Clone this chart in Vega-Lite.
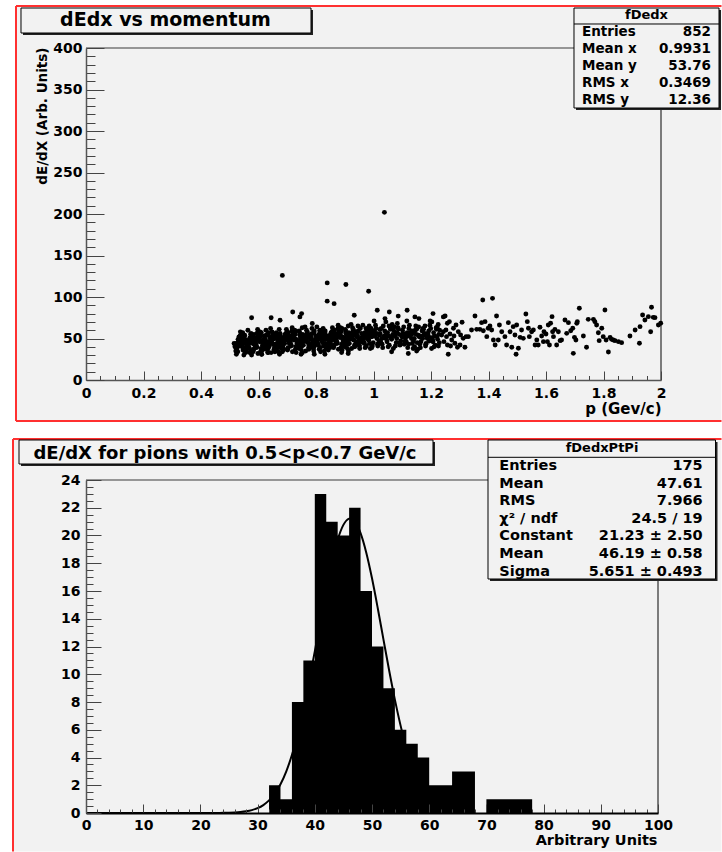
{
"$schema": "https://vega.github.io/schema/vega-lite/v6.json",
"padding": 0,
"autosize": {"type": "pad"},
"background": "#ffffff",
"spacing": 100,
"bounds": "flush",
"config": {
  "font": "DejaVu Sans",
  "view": {"stroke": null},
  "axis": {"grid": false, "zindex": 1, "labelFont": "DejaVu Sans", "labelFontWeight": "bold", "labelFontSize": 14, "labelColor": "#000000", "titleFont": "DejaVu Sans", "titleFontWeight": "bold", "titleColor": "#000000", "labelFlush": false, "labelOverlap": false, "domainColor": "#555555", "domainWidth": 1.5, "tickColor": "#444444", "tickWidth": 1},
  "text": {"font": "DejaVu Sans", "fontWeight": "bold", "color": "#000000"}
},
"datasets": {
"pts": [
{"p":0.515,"e":44},{"p":0.518,"e":40},{"p":0.521,"e":35},{"p":0.538,"e":47},{"p":0.527,"e":42},{"p":0.532,"e":52},{"p":0.523,"e":31},{"p":0.535,"e":45},{"p":0.529,"e":49},{"p":0.525,"e":38},{"p":0.539,"e":55},{"p":0.531,"e":41},{"p":0.522,"e":44},{"p":0.534,"e":51},{"p":0.528,"e":34},{"p":0.537,"e":58},{"p":0.524,"e":39},{"p":0.530,"e":46},{"p":0.536,"e":53},{"p":0.526,"e":43},
{"p":0.550,"e":50},{"p":0.543,"e":40},{"p":0.556,"e":33},{"p":0.547,"e":46},{"p":0.552,"e":54},{"p":0.541,"e":43},{"p":0.559,"e":37},{"p":0.545,"e":57},{"p":0.554,"e":44},{"p":0.549,"e":30},{"p":0.557,"e":48},{"p":0.542,"e":41},{"p":0.551,"e":52},{"p":0.546,"e":36},{"p":0.558,"e":45},{"p":0.544,"e":56},{"p":0.553,"e":39},{"p":0.548,"e":47},{"p":0.555,"e":35},{"p":0.540,"e":49},
{"p":0.561,"e":43},{"p":0.578,"e":54},{"p":0.567,"e":39},{"p":0.572,"e":45},{"p":0.563,"e":60},{"p":0.575,"e":35},{"p":0.569,"e":49},{"p":0.565,"e":41},{"p":0.579,"e":52},{"p":0.571,"e":33},{"p":0.562,"e":46},{"p":0.574,"e":56},{"p":0.568,"e":38},{"p":0.577,"e":48},{"p":0.564,"e":44},{"p":0.570,"e":51},{"p":0.576,"e":30},{"p":0.566,"e":47},{"p":0.573,"e":55},{"p":0.560,"e":42},
{"p":0.590,"e":46},{"p":0.583,"e":37},{"p":0.596,"e":57},{"p":0.587,"e":42},{"p":0.592,"e":50},{"p":0.581,"e":34},{"p":0.599,"e":53},{"p":0.585,"e":45},{"p":0.594,"e":40},{"p":0.589,"e":48},{"p":0.597,"e":61},{"p":0.582,"e":36},{"p":0.591,"e":43},{"p":0.586,"e":51},{"p":0.598,"e":32},{"p":0.584,"e":55},{"p":0.593,"e":39},{"p":0.588,"e":47},{"p":0.595,"e":49},{"p":0.580,"e":44},
{"p":0.601,"e":51},{"p":0.618,"e":41},{"p":0.607,"e":34},{"p":0.612,"e":47},{"p":0.603,"e":55},{"p":0.615,"e":44},{"p":0.609,"e":38},{"p":0.605,"e":58},{"p":0.619,"e":45},{"p":0.611,"e":31},{"p":0.602,"e":49},{"p":0.614,"e":42},{"p":0.608,"e":53},{"p":0.617,"e":37},{"p":0.604,"e":46},{"p":0.610,"e":57},{"p":0.616,"e":40},{"p":0.606,"e":48},{"p":0.613,"e":36},{"p":0.600,"e":50},
{"p":0.630,"e":37},{"p":0.623,"e":49},{"p":0.636,"e":44},{"p":0.627,"e":54},{"p":0.632,"e":33},{"p":0.621,"e":47},{"p":0.639,"e":51},{"p":0.625,"e":40},{"p":0.634,"e":57},{"p":0.629,"e":43},{"p":0.637,"e":46},{"p":0.622,"e":53},{"p":0.631,"e":36},{"p":0.626,"e":60},{"p":0.638,"e":41},{"p":0.624,"e":48},{"p":0.633,"e":55},{"p":0.628,"e":45},{"p":0.635,"e":39},{"p":0.620,"e":50},
{"p":0.641,"e":47},{"p":0.658,"e":38},{"p":0.647,"e":58},{"p":0.652,"e":43},{"p":0.643,"e":51},{"p":0.655,"e":35},{"p":0.649,"e":54},{"p":0.645,"e":46},{"p":0.659,"e":41},{"p":0.651,"e":49},{"p":0.642,"e":62},{"p":0.654,"e":37},{"p":0.648,"e":44},{"p":0.657,"e":52},{"p":0.644,"e":33},{"p":0.650,"e":56},{"p":0.656,"e":40},{"p":0.646,"e":48},{"p":0.653,"e":50},{"p":0.640,"e":45},
{"p":0.670,"e":44},{"p":0.663,"e":55},{"p":0.676,"e":40},{"p":0.667,"e":46},{"p":0.672,"e":61},{"p":0.661,"e":36},{"p":0.679,"e":50},{"p":0.665,"e":42},{"p":0.674,"e":53},{"p":0.669,"e":34},{"p":0.677,"e":47},{"p":0.662,"e":57},{"p":0.671,"e":39},{"p":0.666,"e":49},{"p":0.678,"e":45},{"p":0.664,"e":52},{"p":0.673,"e":31},{"p":0.668,"e":48},{"p":0.675,"e":56},{"p":0.660,"e":43},
{"p":0.681,"e":38},{"p":0.698,"e":50},{"p":0.687,"e":45},{"p":0.692,"e":55},{"p":0.683,"e":34},{"p":0.695,"e":48},{"p":0.689,"e":52},{"p":0.685,"e":41},{"p":0.699,"e":58},{"p":0.691,"e":44},{"p":0.682,"e":47},{"p":0.694,"e":54},{"p":0.688,"e":37},{"p":0.697,"e":61},{"p":0.684,"e":42},{"p":0.690,"e":49},{"p":0.696,"e":56},{"p":0.686,"e":46},
{"p":0.710,"e":48},{"p":0.703,"e":39},{"p":0.716,"e":59},{"p":0.707,"e":44},{"p":0.712,"e":52},{"p":0.701,"e":36},{"p":0.719,"e":55},{"p":0.705,"e":47},{"p":0.714,"e":42},{"p":0.709,"e":50},{"p":0.717,"e":63},{"p":0.702,"e":38},{"p":0.711,"e":45},{"p":0.706,"e":53},{"p":0.718,"e":34},{"p":0.704,"e":57},{"p":0.713,"e":41},{"p":0.708,"e":49},
{"p":0.721,"e":53},{"p":0.738,"e":43},{"p":0.727,"e":36},{"p":0.732,"e":49},{"p":0.723,"e":57},{"p":0.735,"e":46},{"p":0.729,"e":40},{"p":0.725,"e":60},{"p":0.739,"e":47},{"p":0.731,"e":33},{"p":0.722,"e":51},{"p":0.734,"e":44},{"p":0.728,"e":55},{"p":0.737,"e":39},{"p":0.724,"e":48},{"p":0.730,"e":59},{"p":0.736,"e":42},{"p":0.726,"e":50},
{"p":0.750,"e":46},{"p":0.743,"e":57},{"p":0.756,"e":42},{"p":0.747,"e":48},{"p":0.752,"e":63},{"p":0.741,"e":38},{"p":0.759,"e":52},{"p":0.745,"e":44},{"p":0.754,"e":55},{"p":0.749,"e":36},{"p":0.757,"e":49},{"p":0.742,"e":59},{"p":0.751,"e":41},{"p":0.746,"e":51},{"p":0.758,"e":47},{"p":0.744,"e":54},{"p":0.753,"e":33},{"p":0.748,"e":50},
{"p":0.761,"e":49},{"p":0.778,"e":40},{"p":0.767,"e":60},{"p":0.772,"e":45},{"p":0.763,"e":53},{"p":0.775,"e":37},{"p":0.769,"e":56},{"p":0.765,"e":48},{"p":0.779,"e":43},{"p":0.771,"e":51},{"p":0.762,"e":64},{"p":0.774,"e":39},{"p":0.768,"e":46},{"p":0.777,"e":54},{"p":0.764,"e":35},{"p":0.770,"e":58},{"p":0.776,"e":42},{"p":0.766,"e":50},
{"p":0.790,"e":39},{"p":0.783,"e":51},{"p":0.796,"e":46},{"p":0.787,"e":56},{"p":0.792,"e":35},{"p":0.781,"e":49},{"p":0.799,"e":53},{"p":0.785,"e":42},{"p":0.794,"e":59},{"p":0.789,"e":45},{"p":0.797,"e":48},{"p":0.782,"e":55},{"p":0.791,"e":38},{"p":0.786,"e":62},{"p":0.798,"e":43},{"p":0.784,"e":50},{"p":0.793,"e":57},{"p":0.788,"e":47},{"p":0.795,"e":41},{"p":0.780,"e":52},
{"p":0.801,"e":47},{"p":0.818,"e":58},{"p":0.807,"e":43},{"p":0.812,"e":49},{"p":0.803,"e":64},{"p":0.815,"e":39},{"p":0.809,"e":53},{"p":0.805,"e":45},{"p":0.819,"e":56},{"p":0.811,"e":37},{"p":0.802,"e":50},{"p":0.814,"e":60},{"p":0.808,"e":42},{"p":0.817,"e":52},{"p":0.804,"e":48},{"p":0.810,"e":55},{"p":0.816,"e":34},{"p":0.806,"e":51},{"p":0.813,"e":59},{"p":0.800,"e":46},
{"p":0.830,"e":55},{"p":0.823,"e":45},{"p":0.836,"e":38},{"p":0.827,"e":51},{"p":0.832,"e":59},{"p":0.821,"e":48},{"p":0.839,"e":42},{"p":0.825,"e":62},{"p":0.834,"e":49},{"p":0.829,"e":35},{"p":0.837,"e":53},{"p":0.822,"e":46},{"p":0.831,"e":57},{"p":0.826,"e":41},{"p":0.838,"e":50},{"p":0.824,"e":61},{"p":0.833,"e":44},{"p":0.828,"e":52},{"p":0.835,"e":40},{"p":0.820,"e":54},
{"p":0.841,"e":40},{"p":0.858,"e":52},{"p":0.847,"e":47},{"p":0.852,"e":57},{"p":0.843,"e":36},{"p":0.855,"e":50},{"p":0.849,"e":54},{"p":0.845,"e":43},{"p":0.859,"e":60},{"p":0.851,"e":46},{"p":0.842,"e":49},{"p":0.854,"e":56},{"p":0.848,"e":39},{"p":0.857,"e":63},{"p":0.844,"e":44},{"p":0.850,"e":51},{"p":0.856,"e":58},{"p":0.846,"e":48},{"p":0.853,"e":42},{"p":0.840,"e":53},
{"p":0.870,"e":51},{"p":0.863,"e":42},{"p":0.876,"e":62},{"p":0.867,"e":47},{"p":0.872,"e":55},{"p":0.861,"e":39},{"p":0.879,"e":58},{"p":0.865,"e":50},{"p":0.874,"e":45},{"p":0.869,"e":53},{"p":0.877,"e":66},{"p":0.862,"e":41},{"p":0.871,"e":48},{"p":0.866,"e":56},{"p":0.878,"e":37},{"p":0.864,"e":60},{"p":0.873,"e":44},{"p":0.868,"e":52},{"p":0.875,"e":54},{"p":0.860,"e":49},
{"p":0.881,"e":56},{"p":0.898,"e":46},{"p":0.887,"e":39},{"p":0.892,"e":52},{"p":0.883,"e":60},{"p":0.895,"e":49},{"p":0.889,"e":43},{"p":0.885,"e":63},{"p":0.899,"e":50},{"p":0.891,"e":36},{"p":0.882,"e":54},{"p":0.894,"e":47},{"p":0.888,"e":58},{"p":0.897,"e":42},{"p":0.884,"e":51},{"p":0.890,"e":62},{"p":0.896,"e":45},{"p":0.886,"e":53},
{"p":0.910,"e":48},{"p":0.903,"e":59},{"p":0.916,"e":44},{"p":0.907,"e":50},{"p":0.912,"e":65},{"p":0.901,"e":40},{"p":0.919,"e":54},{"p":0.905,"e":46},{"p":0.914,"e":57},{"p":0.909,"e":38},{"p":0.917,"e":51},{"p":0.902,"e":61},{"p":0.911,"e":43},{"p":0.906,"e":53},{"p":0.918,"e":49},{"p":0.904,"e":56},{"p":0.913,"e":35},{"p":0.908,"e":52},
{"p":0.921,"e":52},{"p":0.938,"e":43},{"p":0.927,"e":63},{"p":0.932,"e":48},{"p":0.923,"e":56},{"p":0.935,"e":40},{"p":0.929,"e":59},{"p":0.925,"e":51},{"p":0.939,"e":46},{"p":0.931,"e":54},{"p":0.922,"e":67},{"p":0.934,"e":42},{"p":0.928,"e":49},{"p":0.937,"e":57},{"p":0.924,"e":38},{"p":0.930,"e":61},
{"p":0.950,"e":42},{"p":0.943,"e":54},{"p":0.956,"e":49},{"p":0.947,"e":59},{"p":0.952,"e":38},{"p":0.941,"e":52},{"p":0.959,"e":56},{"p":0.945,"e":45},{"p":0.954,"e":62},{"p":0.949,"e":48},{"p":0.957,"e":51},{"p":0.942,"e":58},{"p":0.951,"e":41},{"p":0.946,"e":65},{"p":0.958,"e":46},{"p":0.944,"e":53},
{"p":0.961,"e":49},{"p":0.978,"e":60},{"p":0.967,"e":45},{"p":0.972,"e":51},{"p":0.963,"e":66},{"p":0.975,"e":41},{"p":0.969,"e":55},{"p":0.965,"e":47},{"p":0.979,"e":58},{"p":0.971,"e":39},{"p":0.962,"e":52},{"p":0.974,"e":62},{"p":0.968,"e":44},{"p":0.977,"e":54},{"p":0.964,"e":50},{"p":0.970,"e":57},
{"p":0.990,"e":58},{"p":0.983,"e":48},{"p":0.996,"e":41},{"p":0.987,"e":54},{"p":0.992,"e":62},{"p":0.981,"e":51},{"p":0.999,"e":45},{"p":0.985,"e":65},{"p":0.994,"e":52},{"p":0.989,"e":38},{"p":0.997,"e":56},{"p":0.982,"e":49},{"p":0.991,"e":60},{"p":0.986,"e":44},{"p":0.998,"e":53},{"p":0.984,"e":64},
{"p":1.001,"e":54},{"p":1.018,"e":44},{"p":1.007,"e":66},{"p":1.012,"e":50},{"p":1.003,"e":59},{"p":1.015,"e":41},{"p":1.009,"e":62},{"p":1.005,"e":53},{"p":1.019,"e":47},{"p":1.011,"e":56},{"p":1.002,"e":71},{"p":1.014,"e":43},
{"p":1.030,"e":43},{"p":1.023,"e":56},{"p":1.036,"e":51},{"p":1.027,"e":62},{"p":1.032,"e":39},{"p":1.021,"e":54},{"p":1.039,"e":59},{"p":1.025,"e":46},{"p":1.034,"e":65},{"p":1.029,"e":50},{"p":1.037,"e":53},{"p":1.022,"e":61},
{"p":1.041,"e":51},{"p":1.058,"e":63},{"p":1.047,"e":46},{"p":1.052,"e":53},{"p":1.043,"e":70},{"p":1.055,"e":42},{"p":1.049,"e":57},{"p":1.045,"e":49},{"p":1.059,"e":61},{"p":1.051,"e":40},{"p":1.042,"e":54},{"p":1.054,"e":65},
{"p":1.070,"e":60},{"p":1.063,"e":49},{"p":1.076,"e":41},{"p":1.067,"e":55},{"p":1.072,"e":64},{"p":1.061,"e":52},{"p":1.079,"e":45},{"p":1.065,"e":67},{"p":1.074,"e":53},{"p":1.069,"e":38},{"p":1.077,"e":57},{"p":1.062,"e":50},
{"p":1.081,"e":50},{"p":1.098,"e":53},{"p":1.087,"e":61},{"p":1.092,"e":42},{"p":1.083,"e":68},{"p":1.095,"e":47},{"p":1.089,"e":55},{"p":1.085,"e":63},{"p":1.099,"e":52},{"p":1.091,"e":45},{"p":1.082,"e":57},{"p":1.094,"e":43},
{"p":1.110,"e":47},{"p":1.103,"e":56},{"p":1.116,"e":71},{"p":1.107,"e":43},{"p":1.112,"e":51},{"p":1.101,"e":60},{"p":1.119,"e":39},{"p":1.105,"e":64},{"p":1.114,"e":46},{"p":1.109,"e":55},{"p":1.117,"e":57},{"p":1.102,"e":52},
{"p":1.121,"e":53},{"p":1.138,"e":38},{"p":1.127,"e":57},{"p":1.132,"e":50},{"p":1.123,"e":62},{"p":1.135,"e":44},{"p":1.129,"e":54},{"p":1.125,"e":66},{"p":1.139,"e":47},{"p":1.131,"e":56},{"p":1.122,"e":43},{"p":1.134,"e":59},
{"p":1.150,"e":61},{"p":1.143,"e":40},{"p":1.156,"e":54},{"p":1.147,"e":65},{"p":1.152,"e":45},{"p":1.141,"e":56},{"p":1.159,"e":52},{"p":1.145,"e":60},{"p":1.154,"e":37},{"p":1.149,"e":55},{"p":1.157,"e":64},{"p":1.142,"e":50},
{"p":1.161,"e":43},{"p":1.178,"e":56},{"p":1.167,"e":51},{"p":1.172,"e":62},{"p":1.163,"e":39},{"p":1.175,"e":54},{"p":1.169,"e":59},{"p":1.165,"e":46},{"p":1.179,"e":65},{"p":1.171,"e":50},{"p":1.162,"e":53},{"p":1.174,"e":61},
{"p":1.190,"e":54},{"p":1.183,"e":44},{"p":1.196,"e":66},{"p":1.187,"e":50},{"p":1.192,"e":59},{"p":1.181,"e":41},{"p":1.199,"e":62},{"p":1.185,"e":53},{"p":1.194,"e":47},{"p":1.189,"e":56},{"p":1.197,"e":71},{"p":1.182,"e":43},
{"p":1.201,"e":51},{"p":1.218,"e":63},{"p":1.207,"e":46},{"p":1.212,"e":53},{"p":1.203,"e":70},{"p":1.215,"e":42},{"p":1.209,"e":57},{"p":1.205,"e":49},{"p":1.219,"e":61},{"p":1.211,"e":40},
{"p":1.230,"e":60},{"p":1.223,"e":49},{"p":1.226,"e":41},{"p":1.227,"e":55},{"p":1.222,"e":64},{"p":1.221,"e":52},{"p":1.229,"e":45},{"p":1.225,"e":67},
{"p":0.551,"e":35},{"p":0.570,"e":33},{"p":0.611,"e":31},{"p":0.634,"e":33},{"p":0.657,"e":34},{"p":0.686,"e":36},{"p":0.748,"e":31},{"p":0.794,"e":31},{"p":0.831,"e":31},{"p":0.889,"e":33},{"p":0.912,"e":32},{"p":0.994,"e":39},{"p":1.063,"e":34},{"p":1.121,"e":32},{"p":1.150,"e":35},{"p":1.202,"e":38},
{"p":0.576,"e":75},{"p":0.644,"e":75},{"p":0.675,"e":72},{"p":0.719,"e":82},{"p":0.750,"e":80},{"p":0.744,"e":76},{"p":0.787,"e":68},{"p":0.933,"e":78},{"p":1.013,"e":84},{"p":1.040,"e":74},{"p":1.055,"e":82},{"p":1.086,"e":77},{"p":1.117,"e":84},{"p":1.144,"e":76},{"p":1.158,"e":74},{"p":1.207,"e":80},{"p":1.243,"e":76},
{"p":0.683,"e":126},{"p":0.839,"e":117},{"p":0.904,"e":115},{"p":0.983,"e":107},{"p":0.839,"e":95},{"p":0.863,"e":92},{"p":1.038,"e":202},
{"p":1.249,"e":77.1},{"p":1.257,"e":68.3},{"p":1.264,"e":70.3},{"p":1.252,"e":60.2},{"p":1.243,"e":58.2},{"p":1.237,"e":54.2},{"p":1.254,"e":52.2},{"p":1.266,"e":55.4},{"p":1.245,"e":46.2},{"p":1.257,"e":42.2},{"p":1.272,"e":48.2},{"p":1.278,"e":62.3},{"p":1.287,"e":66.3},{"p":1.295,"e":58.2},{"p":1.303,"e":54.2},{"p":1.308,"e":69.5},{"p":1.312,"e":50.2},{"p":1.318,"e":39.4},{"p":1.322,"e":52.2},{"p":1.283,"e":44.2},{"p":1.292,"e":39.4},{"p":1.301,"e":42.2},{"p":1.260,"e":31.0},{"p":1.268,"e":41.0},{"p":1.280,"e":53.0},
{"p":1.330,"e":52.2},{"p":1.341,"e":60.2},{"p":1.353,"e":77.1},{"p":1.359,"e":61.0},{"p":1.370,"e":61.0},{"p":1.376,"e":69.1},{"p":1.380,"e":96.4},{"p":1.382,"e":59.4},{"p":1.388,"e":70.3},{"p":1.394,"e":52.2},{"p":1.399,"e":62.3},{"p":1.405,"e":65.1},{"p":1.411,"e":60.2},{"p":1.414,"e":98.4},{"p":1.417,"e":48.2},{"p":1.423,"e":42.2},{"p":1.428,"e":77.1},{"p":1.434,"e":48.2},{"p":1.438,"e":66.3},{"p":1.446,"e":58.2},{"p":1.457,"e":52.2},{"p":1.463,"e":42.2},{"p":1.469,"e":69.1},{"p":1.475,"e":58.2},{"p":1.481,"e":39.4},{"p":1.486,"e":64.3},{"p":1.492,"e":54.2},{"p":1.496,"e":31.0},{"p":1.498,"e":66.3},
{"p":1.504,"e":38.2},{"p":1.510,"e":51.4},{"p":1.515,"e":60.2},{"p":1.521,"e":50.2},{"p":1.530,"e":79.5},{"p":1.535,"e":70.3},{"p":1.539,"e":62.3},{"p":1.542,"e":52.2},{"p":1.550,"e":58.2},{"p":1.556,"e":60.2},{"p":1.562,"e":42.2},{"p":1.568,"e":48.2},{"p":1.573,"e":42.2},{"p":1.579,"e":63.5},{"p":1.585,"e":53.0},{"p":1.591,"e":46.2},{"p":1.593,"e":58.2},{"p":1.600,"e":55.4},{"p":1.605,"e":46.2},{"p":1.608,"e":66.3},{"p":1.612,"e":42.2},{"p":1.616,"e":68.3},{"p":1.621,"e":76.3},{"p":1.623,"e":58.2},{"p":1.626,"e":52.2},{"p":1.631,"e":61.0},{"p":1.637,"e":42.2},{"p":1.643,"e":58.2},{"p":1.649,"e":47.4},{"p":1.654,"e":48.2},
{"p":1.666,"e":72.3},{"p":1.672,"e":56.2},{"p":1.678,"e":69.1},{"p":1.686,"e":59.4},{"p":1.693,"e":62.3},{"p":1.695,"e":32.1},{"p":1.699,"e":51.4},{"p":1.704,"e":48.2},{"p":1.707,"e":68.3},{"p":1.709,"e":70.3},{"p":1.716,"e":86.4},{"p":1.730,"e":53.0},{"p":1.741,"e":39.4},{"p":1.747,"e":73.1},{"p":1.765,"e":73.1},{"p":1.770,"e":70.3},{"p":1.776,"e":66.3},{"p":1.782,"e":57.0},{"p":1.785,"e":47.4},{"p":1.794,"e":62.3},{"p":1.799,"e":52.2},{"p":1.805,"e":84.3},{"p":1.809,"e":48.2},{"p":1.817,"e":33.7},{"p":1.823,"e":51.4},{"p":1.828,"e":49.0},{"p":1.834,"e":48.2},{"p":1.840,"e":47.4},{"p":1.852,"e":46.2},{"p":1.863,"e":45.0},
{"p":1.892,"e":53.0},{"p":1.910,"e":60.2},{"p":1.925,"e":44.2},{"p":1.927,"e":64.3},{"p":1.936,"e":78.3},{"p":1.944,"e":72.3},{"p":1.956,"e":76.3},{"p":1.964,"e":58.2},{"p":1.967,"e":87.6},{"p":1.973,"e":75.5},{"p":1.979,"e":75.1},{"p":1.991,"e":66.3},{"p":1.999,"e":68.3}
],
"hist": [
{"lo":32,"n":2},{"lo":34,"n":1},{"lo":36,"n":8},{"lo":38,"n":11},{"lo":40,"n":23},{"lo":42,"n":21},{"lo":44,"n":20},{"lo":46,"n":22},{"lo":48,"n":16},{"lo":50,"n":12},{"lo":52,"n":9},{"lo":54,"n":6},{"lo":56,"n":5},{"lo":58,"n":4},{"lo":60,"n":2},{"lo":62,"n":2},{"lo":64,"n":3},{"lo":66,"n":3},{"lo":68,"n":0},{"lo":70,"n":1},{"lo":72,"n":1},{"lo":74,"n":1},{"lo":76,"n":1},{"lo":78,"n":0}
],
"fit": [
{"x":0,"f":0},{"x":10,"f":0},{"x":20,"f":0.0005},{"x":22,"f":0.0022},{"x":24,"f":0.0095},{"x":25,"f":0.0188},{"x":26,"f":0.0359},{"x":27,"f":0.0665},{"x":28,"f":0.1195},{"x":29,"f":0.2077},{"x":30,"f":0.350},{"x":31,"f":0.573},{"x":32,"f":0.907},{"x":33,"f":1.393},{"x":34,"f":2.072},{"x":35,"f":2.989},{"x":36,"f":4.178},{"x":37,"f":5.658},{"x":38,"f":7.428},{"x":39,"f":9.450},{"x":40,"f":11.653},{"x":41,"f":13.925},{"x":42,"f":16.128},{"x":43,"f":18.103},{"x":44,"f":19.695},{"x":45,"f":20.765},{"x":46,"f":21.218},{"x":46.19,"f":21.23},{"x":47,"f":21.013},{"x":48,"f":20.168},{"x":49,"f":18.761},{"x":50,"f":16.914},{"x":51,"f":14.778},{"x":52,"f":12.513},{"x":53,"f":10.271},{"x":54,"f":8.169},{"x":55,"f":6.297},{"x":55.2,"f":5.955}
]
},
"vconcat": [
{
"width": 575, "height": 332,
"layer": [
{"data": {"values": [{}]}, "mark": {"type": "rect", "fill": "#ffffff"},
 "encoding": {"x": {"datum": -0.29878, "type": "quantitative", "scale": {"domain": [0, 2], "nice": false, "zero": false}}, "x2": {"datum": 2.21043}, "y": {"datum": 457.71, "type": "quantitative", "scale": {"domain": [0, 400], "nice": false, "zero": false}}, "y2": {"datum": -49.4}}},
{"data": {"values": [{}]}, "mark": {"type": "rect", "fill": "#f2f2f2"},
 "encoding": {"x": {"datum": -0.24348, "type": "quantitative"}, "x2": {"datum": 2.21043}, "y": {"datum": 450.6, "type": "quantitative"}, "y2": {"datum": -49.4}}},
{"data": {"values": [{}]}, "mark": {"type": "rule", "color": "#ff3030", "strokeWidth": 2},
 "encoding": {"x": {"datum": -0.24348, "type": "quantitative"}, "x2": {"datum": 2.21043}, "y": {"datum": 450.6, "type": "quantitative"}}},
{"data": {"values": [{}]}, "mark": {"type": "rule", "color": "#ff3030", "strokeWidth": 2},
 "encoding": {"x": {"datum": -0.24348, "type": "quantitative"}, "x2": {"datum": 2.21043}, "y": {"datum": -49.4, "type": "quantitative"}}},
{"data": {"values": [{}]}, "mark": {"type": "rule", "color": "#ff3030", "strokeWidth": 2},
 "encoding": {"x": {"datum": -0.24348, "type": "quantitative"}, "y": {"datum": 450.6, "type": "quantitative"}, "y2": {"datum": -49.4}}},
{"data": {"values": [{}]}, "mark": {"type": "rule", "color": "#777777", "strokeWidth": 1.5},
 "encoding": {"x": {"datum": 0, "type": "quantitative"}, "x2": {"datum": 2}, "y": {"datum": 400, "type": "quantitative"}}},
{"data": {"values": [{}]}, "mark": {"type": "rule", "color": "#555555", "strokeWidth": 1.5},
 "encoding": {"x": {"datum": 2, "type": "quantitative"}, "y": {"datum": 0, "type": "quantitative"}, "y2": {"datum": 400}}},
{"data": {"name": "pts"},
 "mark": {"type": "point", "filled": true, "shape": "circle", "size": 24, "color": "#000000", "opacity": 1},
 "encoding": {
  "x": {"field": "p", "type": "quantitative", "scale": {"domain": [0, 2], "nice": false, "zero": false},
   "axis": {"zindex": 1, "tickCount": 500, "labelOverlap": false, "values": [0,0.05,0.1,0.15,0.2,0.25,0.3,0.35,0.4,0.45,0.5,0.55,0.6,0.65,0.7,0.75,0.8,0.85,0.9,0.95,1,1.05,1.1,1.15,1.2,1.25,1.3,1.35,1.4,1.45,1.5,1.55,1.6,1.65,1.7,1.75,1.8,1.85,1.9,1.95,2],
    "labelExpr": "abs(datum.value*5-round(datum.value*5))<0.000001 ? format(datum.value,'~g') : ''",
    "tickSize": {"condition": {"test": "abs(datum.value*5-round(datum.value*5))<0.000001", "value": -9}, "value": -4.5},
    "labelPadding": 15,
    "title": "p (Gev/c)", "titleX": 575, "titleY": 33, "titleAlign": "right", "titleBaseline": "alphabetic", "titleFontSize": 15}},
  "y": {"field": "e", "type": "quantitative", "scale": {"domain": [0, 400], "nice": false, "zero": false},
   "axis": {"zindex": 1, "tickCount": 500, "labelOverlap": false, "values": [0,10,20,30,40,50,60,70,80,90,100,110,120,130,140,150,160,170,180,190,200,210,220,230,240,250,260,270,280,290,300,310,320,330,340,350,360,370,380,390,400],
    "labelExpr": "datum.value % 50 === 0 ? format(datum.value,'~g') : ''",
    "tickSize": {"condition": {"test": "datum.value % 50 === 0", "value": -18}, "value": -9},
    "labelPadding": 22,
    "title": "dE/dX (Arb. Units)", "titleX": -40, "titleY": -1, "titleAlign": "right", "titleAngle": 270, "titleBaseline": "alphabetic", "titleFontSize": 13.5}}
 }},
{"data": {"values": [{}]}, "mark": {"type": "rect", "fill": "#222222"},
 "encoding": {"x": {"datum": -0.21913, "type": "quantitative"}, "x2": {"datum": 0.78957}, "y": {"datum": 445.78, "type": "quantitative"}, "y2": {"datum": 415.66}}},
{"data": {"values": [{}]}, "mark": {"type": "rect", "fill": "#f2f2f2", "stroke": "#000000", "strokeWidth": 1},
 "encoding": {"x": {"datum": -0.22609, "type": "quantitative"}, "x2": {"datum": 0.78261}, "y": {"datum": 448.19, "type": "quantitative"}, "y2": {"datum": 418.07}}},
{"data": {"values": [{"t": "dEdx vs momentum"}]}, "mark": {"type": "text", "fontSize": 19, "align": "center", "baseline": "alphabetic"},
 "encoding": {"x": {"datum": 0.27652, "type": "quantitative"}, "y": {"datum": 426.51, "type": "quantitative"}, "text": {"field": "t"}}},
{"data": {"values": [{}]}, "mark": {"type": "rect", "fill": "#222222"},
 "encoding": {"x": {"datum": 1.70435, "type": "quantitative"}, "x2": {"datum": 2.2087}, "y": {"datum": 445.78, "type": "quantitative"}, "y2": {"datum": 325.3}}},
{"data": {"values": [{}]}, "mark": {"type": "rect", "fill": "#f2f2f2", "stroke": "#000000", "strokeWidth": 1},
 "encoding": {"x": {"datum": 1.69739, "type": "quantitative"}, "x2": {"datum": 2.20174}, "y": {"datum": 448.19, "type": "quantitative"}, "y2": {"datum": 327.71}}},
{"data": {"values": [{}]}, "mark": {"type": "rule", "color": "#000000", "strokeWidth": 1},
 "encoding": {"x": {"datum": 1.69739, "type": "quantitative"}, "x2": {"datum": 2.20174}, "y": {"datum": 428.92, "type": "quantitative"}}},
{"data": {"values": [{"t": "fDedx"}]}, "mark": {"type": "text", "fontSize": 13, "align": "center", "baseline": "alphabetic"},
 "encoding": {"x": {"datum": 1.94957, "type": "quantitative"}, "y": {"datum": 434.34, "type": "quantitative"}, "text": {"field": "t"}}},
{"data": {"values": [{"t": "Entries\nMean x\nMean y\nRMS x\nRMS y"}]}, "mark": {"type": "text", "fontSize": 13.5, "align": "left", "baseline": "alphabetic", "lineBreak": "\n", "lineHeight": 16.8},
 "encoding": {"x": {"datum": 1.72522, "type": "quantitative"}, "y": {"datum": 413.86, "type": "quantitative"}, "text": {"field": "t"}}},
{"data": {"values": [{"t": "852\n0.9931\n53.76\n0.3469\n12.36"}]}, "mark": {"type": "text", "fontSize": 13.5, "align": "right", "baseline": "alphabetic", "lineBreak": "\n", "lineHeight": 16.8},
 "encoding": {"x": {"datum": 2.17391, "type": "quantitative"}, "y": {"datum": 413.86, "type": "quantitative"}, "text": {"field": "t"}}}
]
},
{
"width": 572, "height": 333,
"layer": [
{"data": {"values": [{}]}, "mark": {"type": "rect", "fill": "#f2f2f2"},
 "encoding": {"x": {"datum": -12.762, "type": "quantitative", "scale": {"domain": [0, 100], "nice": false, "zero": false}}, "x2": {"datum": 111.101}, "y": {"datum": 26.955, "type": "quantitative", "scale": {"domain": [0, 24], "nice": false, "zero": false}}, "y2": {"datum": -2.7748}}},
{"data": {"values": [{}]}, "mark": {"type": "rule", "color": "#ff3030", "strokeWidth": 2},
 "encoding": {"x": {"datum": -12.762, "type": "quantitative"}, "x2": {"datum": 111.101}, "y": {"datum": 26.955, "type": "quantitative"}}},
{"data": {"values": [{}]}, "mark": {"type": "rule", "color": "#ff3030", "strokeWidth": 2},
 "encoding": {"x": {"datum": -12.762, "type": "quantitative"}, "y": {"datum": 26.955, "type": "quantitative"}, "y2": {"datum": -2.7748}}},
{"data": {"values": [{}]}, "mark": {"type": "rule", "color": "#777777", "strokeWidth": 1.5},
 "encoding": {"x": {"datum": 0, "type": "quantitative"}, "x2": {"datum": 100}, "y": {"datum": 24, "type": "quantitative"}}},
{"data": {"values": [{}]}, "mark": {"type": "rule", "color": "#555555", "strokeWidth": 1.5},
 "encoding": {"x": {"datum": 100, "type": "quantitative"}, "y": {"datum": 0, "type": "quantitative"}, "y2": {"datum": 24}}},
{"data": {"name": "hist"},
 "mark": {"type": "area", "color": "#000000", "interpolate": "step-after", "opacity": 1},
 "encoding": {
  "x": {"field": "lo", "type": "quantitative", "scale": {"domain": [0, 100], "nice": false, "zero": false},
   "axis": {"zindex": 1, "tickCount": 500, "labelOverlap": false, "values": [0,2,4,6,8,10,12,14,16,18,20,22,24,26,28,30,32,34,36,38,40,42,44,46,48,50,52,54,56,58,60,62,64,66,68,70,72,74,76,78,80,82,84,86,88,90,92,94,96,98,100],
    "labelExpr": "datum.value % 10 === 0 ? format(datum.value,'~g') : ''",
    "tickSize": {"condition": {"test": "datum.value % 10 === 0", "value": -9}, "value": -4},
    "labelPadding": 14, "domainColor": "#000000", "domainWidth": 2,
    "title": "Arbitrary Units", "titleX": 571, "titleY": 31, "titleAlign": "right", "titleBaseline": "alphabetic", "titleFontSize": 14.5}},
  "y": {"field": "n", "type": "quantitative", "scale": {"domain": [0, 24], "nice": false, "zero": false},
   "axis": {"zindex": 1, "tickCount": 500, "labelOverlap": false, "values": [0,0.5,1,1.5,2,2.5,3,3.5,4,4.5,5,5.5,6,6.5,7,7.5,8,8.5,9,9.5,10,10.5,11,11.5,12,12.5,13,13.5,14,14.5,15,15.5,16,16.5,17,17.5,18,18.5,19,19.5,20,20.5,21,21.5,22,22.5,23,23.5,24],
    "labelExpr": "datum.value % 2 === 0 ? format(datum.value,'~g') : ''",
    "tickSize": {"condition": {"test": "datum.value % 2 === 0", "value": -15}, "value": -7},
    "labelPadding": 21, "title": null}}
 }},
{"data": {"name": "fit"},
 "mark": {"type": "line", "color": "#000000", "strokeWidth": 2, "interpolate": "monotone"},
 "encoding": {"x": {"field": "x", "type": "quantitative"}, "y": {"field": "f", "type": "quantitative"}}},
{"data": {"values": [{}]}, "mark": {"type": "rect", "fill": "#222222"},
 "encoding": {"x": {"datum": -11.364, "type": "quantitative"}, "x2": {"datum": 61.014}, "y": {"datum": 26.739, "type": "quantitative"}, "y2": {"datum": 25.009}}},
{"data": {"values": [{}]}, "mark": {"type": "rect", "fill": "#f2f2f2", "stroke": "#000000", "strokeWidth": 1},
 "encoding": {"x": {"datum": -11.713, "type": "quantitative"}, "x2": {"datum": 60.664}, "y": {"datum": 26.883, "type": "quantitative"}, "y2": {"datum": 25.153}}},
{"data": {"values": [{"t": "dE/dX for pions with 0.5<p<0.7 GeV/c"}]}, "mark": {"type": "text", "fontSize": 18, "align": "center", "baseline": "alphabetic"},
 "encoding": {"x": {"datum": 24.301, "type": "quantitative"}, "y": {"datum": 25.492, "type": "quantitative"}, "text": {"field": "t"}}},
{"data": {"values": [{}]}, "mark": {"type": "rect", "fill": "#222222"},
 "encoding": {"x": {"datum": 70.629, "type": "quantitative"}, "x2": {"datum": 110.402}, "y": {"datum": 26.739, "type": "quantitative"}, "y2": {"datum": 16.721}}},
{"data": {"values": [{}]}, "mark": {"type": "rect", "fill": "#f2f2f2", "stroke": "#000000", "strokeWidth": 1},
 "encoding": {"x": {"datum": 70.28, "type": "quantitative"}, "x2": {"datum": 110.053}, "y": {"datum": 26.883, "type": "quantitative"}, "y2": {"datum": 16.865}}},
{"data": {"values": [{}]}, "mark": {"type": "rule", "color": "#000000", "strokeWidth": 1},
 "encoding": {"x": {"datum": 70.28, "type": "quantitative"}, "x2": {"datum": 110.053}, "y": {"datum": 25.636, "type": "quantitative"}}},
{"data": {"values": [{"t": "fDedxPtPi"}]}, "mark": {"type": "text", "fontSize": 13, "align": "center", "baseline": "alphabetic"},
 "encoding": {"x": {"datum": 90.21, "type": "quantitative"}, "y": {"datum": 26.04, "type": "quantitative"}, "text": {"field": "t"}}},
{"data": {"values": [{"t": "Entries\nMean\nRMS\nχ² / ndf\nConstant\nMean\nSigma"}]}, "mark": {"type": "text", "fontSize": 14.5, "align": "left", "baseline": "alphabetic", "lineBreak": "\n", "lineHeight": 17.6},
 "encoding": {"x": {"datum": 72.255, "type": "quantitative"}, "y": {"datum": 24.721, "type": "quantitative"}, "text": {"field": "t"}}},
{"data": {"values": [{"t": "175\n47.61\n7.966\n24.5 / 19\n21.23 ± 2.50\n46.19 ± 0.58\n5.651 ± 0.493"}]}, "mark": {"type": "text", "fontSize": 14.5, "align": "right", "baseline": "alphabetic", "lineBreak": "\n", "lineHeight": 17.6},
 "encoding": {"x": {"datum": 107.815, "type": "quantitative"}, "y": {"datum": 24.721, "type": "quantitative"}, "text": {"field": "t"}}}
]
}
]
}
